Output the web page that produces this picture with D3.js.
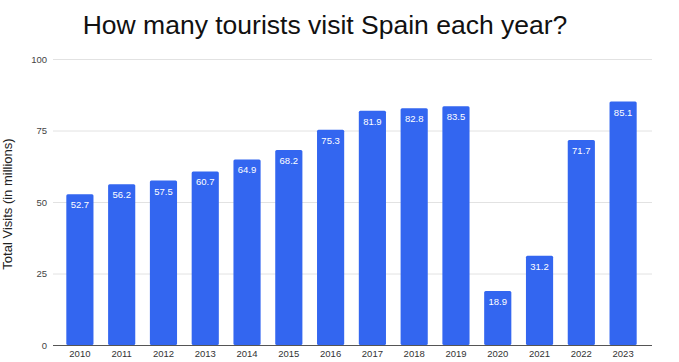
<!DOCTYPE html>
<html><head><meta charset="utf-8">
<script src="https://cdn.jsdelivr.net/npm/d3@7"></script>
<style>body{margin:0;background:#fff;}svg{display:block;font-family:"Liberation Sans",Arial,sans-serif;}</style>
</head><body><svg id="c" width="679" height="362"></svg>
<script>
const years = ["2010","2011","2012","2013","2014","2015","2016","2017","2018","2019","2020","2021","2022","2023"];
const visits = [52.7,56.2,57.5,60.7,64.9,68.2,75.3,81.9,82.8,83.5,18.9,31.2,71.7,85.1];
const yTicks = [0,25,50,75,100];

const svg = d3.select("#c");
const x = d3.scaleBand().domain(years).range([59, 644]).paddingInner(0.35).paddingOuter(0.175);
const y = d3.scaleLinear().domain([0,100]).range([345, 59]);

svg.append("text").attr("x", 325).attr("y", 34).attr("text-anchor","middle")
  .attr("font-size", 26.5).attr("fill","#111").text("How many tourists visit Spain each year?");

const ga = svg.append("g").attr("transform","translate(53,0)")
  .call(d3.axisLeft(y).tickValues(yTicks).tickSize(-(652-53)).tickPadding(6));
ga.select(".domain").remove();
ga.selectAll(".tick line").attr("stroke","#e2e2e2");
ga.selectAll(".tick text").attr("font-size",9.5).attr("fill","#444").attr("font-family","Liberation Sans, Arial, sans-serif");

svg.append("text").attr("transform","translate(12,204) rotate(-90)").attr("text-anchor","middle")
  .attr("font-size",13).attr("fill","#222").text("Total Visits (in millions)");

svg.selectAll("rect.bar").data(years).enter().append("rect").attr("class","bar")
  .attr("x", d=>x(d)).attr("width", x.bandwidth())
  .attr("y", (d,i)=>y(visits[i])).attr("height",(d,i)=>y(0)-y(visits[i]))
  .attr("rx",1.5).attr("fill","#3366f0");

svg.selectAll("text.val").data(years).enter().append("text").attr("class","val")
  .attr("x", d=>x(d)+x.bandwidth()/2).attr("y",(d,i)=>y(visits[i])+14)
  .attr("text-anchor","middle").attr("font-size",9.5).attr("fill","#fff")
  .text((d,i)=>visits[i].toFixed(1));

const gx = svg.append("g").attr("transform","translate(0,345)")
  .call(d3.axisBottom(x).tickSize(0).tickPadding(5));
gx.select(".domain").attr("d","M53,0.5H652").attr("stroke","#555");
gx.selectAll(".tick text").attr("font-size",9.5).attr("fill","#333").attr("font-family","Liberation Sans, Arial, sans-serif");
</script></body></html>
